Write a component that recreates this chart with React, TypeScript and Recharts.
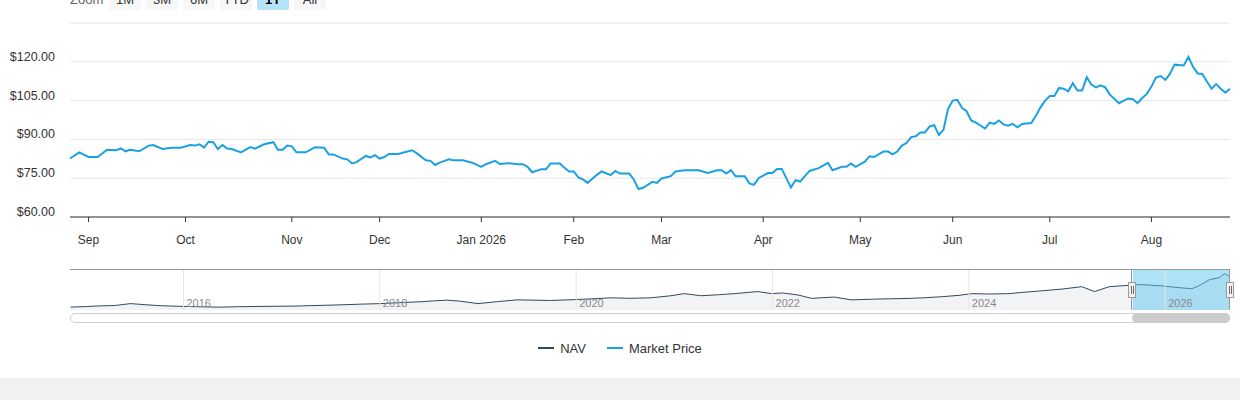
import {
  Area,
  AreaChart,
  CartesianGrid,
  Line,
  LineChart,
  ReferenceArea,
  ReferenceLine,
  XAxis,
  YAxis,
} from "recharts";

const FONT = '"Liberation Sans", Arial, Helvetica, sans-serif';
const PRICE_COLOR = "#1ba1e2";
const NAV_COLOR = "#34495e";

// trading-day index (0 = 26 Aug 2025) for each sampled market price
const tradingDay = [
  0, 2, 4, 6, 8, 10, 11, 12, 13, 15,
  17, 18, 20, 22, 24, 26, 27, 28, 29, 30,
  31, 32, 33, 34, 35, 37, 39, 40, 42, 44,
  45, 46, 47, 48, 49, 51, 53, 55, 56, 57,
  59, 60, 61, 62, 64, 65, 66, 67, 68, 69,
  71, 73, 74, 75, 77, 78, 79, 80, 82, 83,
  85, 87, 89, 90, 92, 93, 95, 97, 98, 99,
  100, 102, 103, 104, 106, 107, 108, 109, 110, 111,
  112, 114, 115, 117, 118, 119, 121, 122, 123, 124,
  126, 127, 128, 130, 131, 133, 135, 136, 138, 140,
  141, 142, 143, 144, 146, 147, 148, 149, 151, 152,
  153, 154, 156, 157, 158, 160, 162, 164, 165, 167,
  168, 169, 170, 172, 173, 174, 176, 177, 178, 179,
  180, 181, 182, 183, 184, 185, 186, 187, 188, 189,
  190, 191, 192, 193, 194, 195, 196, 198, 199, 200,
  201, 202, 203, 204, 205, 206, 208, 209, 210, 211,
  212, 213, 214, 215, 216, 217, 218, 219, 220, 221,
  222, 223, 224, 225, 227, 228, 229, 230, 231, 232,
  233, 234, 235, 236, 237, 238, 239, 241, 242, 243,
  244, 245, 246, 247, 248, 249, 250, 251,
];

const marketPrice = [
  82.6, 85.0, 83.2, 83.2, 86.0, 85.8, 86.5, 85.4, 86.0, 85.4,
  87.6, 87.8, 86.3, 86.8, 86.8, 87.8, 87.6, 88.1, 86.8, 89.1,
  88.9, 86.3, 87.8, 86.5, 86.3, 85.0, 87.0, 86.4, 88.1, 88.9,
  86.0, 86.0, 87.6, 87.3, 85.0, 85.0, 87.0, 86.8, 84.2, 84.2,
  82.6, 82.3, 80.7, 81.2, 83.6, 83.0, 83.9, 82.6, 83.2, 84.4,
  84.4, 85.3, 85.8, 84.7, 81.9, 81.7, 80.1, 81.0, 82.3, 81.9,
  81.9, 81.0, 79.4, 80.4, 81.7, 80.5, 80.8, 80.4, 80.4, 79.4,
  77.3, 78.5, 78.5, 80.7, 80.7, 79.0, 77.6, 77.6, 75.3, 74.5,
  73.2, 76.3, 77.6, 76.2, 77.8, 76.8, 76.8, 74.5, 70.8, 71.3,
  73.6, 73.2, 74.9, 75.8, 77.6, 78.1, 78.1, 78.1, 77.0, 78.1,
  78.1, 76.8, 78.1, 75.8, 75.8, 73.0, 72.4, 75.0, 77.0, 77.0,
  78.6, 78.6, 71.4, 74.2, 73.7, 77.8, 78.9, 80.9, 78.1, 79.4,
  79.4, 80.7, 79.4, 81.4, 83.5, 83.2, 85.3, 85.3, 84.2, 85.3,
  87.6, 88.6, 90.9, 91.2, 92.7, 92.7, 95.0, 95.5, 91.7, 93.7,
  101.8, 105.0, 105.3, 102.2, 100.9, 97.3, 96.5, 94.2, 96.5, 96.0,
  97.3, 95.8, 95.3, 96.0, 94.7, 96.0, 96.3, 99.1, 102.4, 105.0,
  106.8, 106.8, 109.9, 109.6, 108.6, 111.7, 108.9, 108.9, 114.0, 111.2,
  110.1, 110.9, 110.1, 107.3, 104.0, 105.0, 105.8, 105.5, 104.0, 106.0,
  107.6, 110.4, 114.0, 114.5, 113.0, 115.3, 118.9, 118.6, 121.9, 118.1,
  115.5, 115.3, 112.4, 109.6, 111.4, 109.6, 108.1, 109.6,
];

const monthTicks = [4, 25, 48, 67, 89, 109, 128, 150, 171, 191, 212, 234];
const monthLabels = ["Sep", "Oct", "Nov", "Dec", "Jan 2026", "Feb", "Mar", "Apr", "May", "Jun", "Jul", "Aug"];
const priceTicks = [60, 75, 90, 105, 120, 135];

// navigator: full history, decimal years
const navYear = [
  2014.85, 2015.0, 2015.15, 2015.3, 2015.46, 2015.6, 2015.76, 2016.0, 2016.2, 2016.37,
  2016.55, 2016.78, 2017.12, 2017.35, 2017.6, 2017.8, 2018.01, 2018.2, 2018.42, 2018.55,
  2018.69, 2018.82, 2019.0, 2019.2, 2019.4, 2019.74, 2020.02, 2020.2, 2020.36, 2020.55,
  2020.76, 2020.95, 2021.1, 2021.27, 2021.45, 2021.61, 2021.85, 2021.99, 2022.1, 2022.26,
  2022.4, 2022.5, 2022.63, 2022.8, 2023.04, 2023.2, 2023.39, 2023.55, 2023.72, 2023.9,
  2024.03, 2024.2, 2024.41, 2024.55, 2024.74, 2024.95, 2025.15, 2025.28, 2025.43, 2025.63,
  2025.76, 2025.97, 2026.1, 2026.27, 2026.34, 2026.45, 2026.55, 2026.61, 2026.66,
];
const navValue = [
  9.6, 11.5, 13.7, 15.0, 21.4, 18.0, 14.4, 12.0, 10.5, 9.6,
  11.0, 12.0, 13.0, 15.0, 17.2, 19.5, 21.4, 24.5, 27.6, 30.5,
  32.8, 29.4, 21.4, 28.0, 33.9, 31.8, 35.2, 38.0, 40.8, 39.0,
  40.8, 47.0, 54.7, 47.7, 51.0, 54.7, 61.6, 54.7, 57.0, 50.2,
  38.7, 41.0, 43.2, 33.9, 36.3, 37.5, 38.7, 41.0, 44.3, 49.0,
  54.7, 53.5, 54.7, 59.0, 64.0, 70.0, 77.9, 61.6, 77.9, 82.4,
  84.9, 80.4, 76.0, 71.0, 80.4, 101.2, 108.1, 122.0, 110.2,
];
const navYearTicks = [2016, 2018, 2020, 2022, 2024, 2026];
const navRange = [2014.844, 2026.66];
const selectedRange = [2025.67, 2026.66];

const zoomButtons = ["1M", "3M", "6M", "YTD", "1Y", "All"];
const selectedButton = "1Y";

const priceData = tradingDay.map((day, i) => ({ day, price: marketPrice[i] }));
const navData = navYear.map((year, i) => ({ year, nav: navValue[i] }));

function PriceTick({ y, payload }: any) {
  if (payload.value === 135) return <g />;
  return (
    <text x={55} y={y - 1} textAnchor="end" fontSize={12.5} fill="#333" fontFamily={FONT}>
      ${payload.value.toFixed(2)}
    </text>
  );
}

function MonthTick({ x, y, payload }: any) {
  const label = monthLabels[monthTicks.indexOf(payload.value)] ?? "";
  return (
    <text x={x} y={y + 20} textAnchor="middle" fontSize={12} fill="#333" fontFamily={FONT}>
      {label}
    </text>
  );
}

function YearLabel(props: any) {
  const vb = props.viewBox ?? {};
  return (
    <text x={vb.x + 3} y={vb.y + vb.height - 3.5} fontSize={11} fill="#8a8a8a" fontFamily={FONT}>
      {props.value}
    </text>
  );
}

function Handle({ left }: { left: number }) {
  return (
    <div
      style={{
        position: "absolute",
        left,
        top: 282,
        width: 6,
        height: 14,
        background: "#f2f2f2",
        border: "1px solid #999",
        boxSizing: "content-box",
      }}
    >
      <div style={{ position: "absolute", left: 1.5, top: 3, width: 1, height: 8, background: "#666" }} />
      <div style={{ position: "absolute", left: 3.5, top: 3, width: 1, height: 8, background: "#666" }} />
    </div>
  );
}

export default function App() {
  return (
    <div
      style={{
        position: "relative",
        width: 1240,
        height: 400,
        overflow: "hidden",
        background: "#fff",
        fontFamily: FONT,
        color: "#333",
      }}
    >
      <style>{"body{margin:0}"}</style>

      {/* range selector, cut off at the top */}
      <div style={{ position: "absolute", left: 70, top: -12, height: 22, display: "flex", alignItems: "center" }}>
        <span style={{ fontSize: 13, color: "#666", marginRight: 6 }}>Zoom</span>
        {zoomButtons.map((b) => (
          <div
            key={b}
            style={{
              width: 31.5,
              height: 22,
              marginRight: 5.5,
              borderRadius: 2,
              background: b === selectedButton ? "#b5e4f8" : "#f7f7f7",
              fontSize: 13,
              fontWeight: b === selectedButton ? 700 : 400,
              color: b === selectedButton ? "#000" : "#333",
              display: "flex",
              alignItems: "center",
              justifyContent: "center",
            }}
          >
            {b}
          </div>
        ))}
      </div>

      <div style={{ position: "absolute", left: 0, top: 0 }}>
        <LineChart width={1240} height={257} data={priceData} margin={{ top: 23, right: 10, bottom: 0, left: 0 }}>
          <CartesianGrid vertical={false} stroke="#e6e6e6" />
          <XAxis
            dataKey="day"
            type="number"
            domain={[0, 251]}
            ticks={monthTicks}
            interval={0}
            height={40}
            tickSize={5}
            axisLine={{ stroke: "#333" }}
            tickLine={{ stroke: "#333" }}
            tick={<MonthTick />}
          />
          <YAxis
            type="number"
            domain={[60, 135]}
            ticks={priceTicks}
            width={70}
            axisLine={false}
            tickLine={false}
            tick={<PriceTick />}
          />
          <Line
            type="linear"
            dataKey="price"
            stroke={PRICE_COLOR}
            strokeWidth={2}
            dot={false}
            isAnimationActive={false}
          />
        </LineChart>
      </div>

      {/* navigator */}
      <div style={{ position: "absolute", left: 0, top: 269 }}>
        <AreaChart width={1240} height={41} data={navData} margin={{ top: 0, right: 10, bottom: 0, left: 70 }}>
          <XAxis dataKey="year" type="number" domain={navRange} hide />
          <YAxis type="number" domain={[0, 137]} hide />
          {navYearTicks.map((yr) => (
            <ReferenceLine
              key={yr}
              x={yr}
              stroke="#e6e6e6"
              label={(p: any) => <YearLabel {...p} value={String(yr)} />}
            />
          ))}
          <Area
            type="linear"
            dataKey="nav"
            stroke={NAV_COLOR}
            strokeWidth={1}
            fill="#f2f3f5"
            fillOpacity={1}
            isAnimationActive={false}
          />
          <ReferenceArea
            x1={selectedRange[0]}
            x2={selectedRange[1]}
            fill="#5cc6ef"
            fillOpacity={0.5}
            stroke="none"
          />
        </AreaChart>
      </div>

      {/* navigator outline and handles */}
      <div style={{ position: "absolute", left: 70, top: 269, width: 1160, height: 1, background: "#999" }} />
      <div style={{ position: "absolute", left: 1131, top: 269, width: 1, height: 41, background: "#999" }} />
      <div style={{ position: "absolute", left: 1229, top: 269, width: 1, height: 41, background: "#999" }} />
      <Handle left={1128} />
      <Handle left={1226} />

      {/* scrollbar */}
      <div
        style={{
          position: "absolute",
          left: 70,
          top: 313,
          width: 1160,
          height: 10,
          border: "1px solid #d0d0d0",
          borderRadius: 6,
          background: "#fff",
          boxSizing: "border-box",
        }}
      />
      <div
        style={{
          position: "absolute",
          left: 1132,
          top: 313,
          width: 98,
          height: 10,
          borderRadius: 5,
          background: "#cccccc",
        }}
      />

      {/* legend */}
      <div
        style={{
          position: "absolute",
          left: 0,
          top: 339,
          width: 1240,
          height: 18,
          display: "flex",
          justifyContent: "center",
          alignItems: "center",
          fontSize: 13,
          color: "#333",
        }}
      >
        <div style={{ display: "flex", alignItems: "center", marginRight: 21 }}>
          <span style={{ width: 16, height: 2, background: NAV_COLOR, marginRight: 6 }} />
          <span>NAV</span>
        </div>
        <div style={{ display: "flex", alignItems: "center" }}>
          <span style={{ width: 16, height: 2, background: PRICE_COLOR, marginRight: 6 }} />
          <span>Market Price</span>
        </div>
      </div>

      <div style={{ position: "absolute", left: 0, top: 378, width: 1240, height: 22, background: "#f2f2f2" }} />
    </div>
  );
}
